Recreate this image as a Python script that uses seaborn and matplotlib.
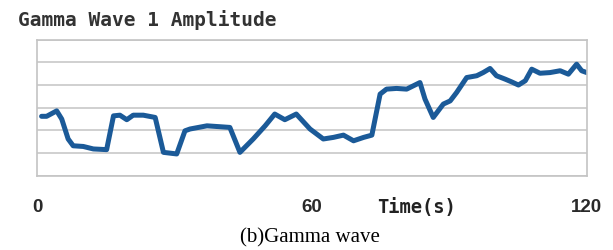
import numpy as np
import pandas as pd
import matplotlib
matplotlib.use("Agg")
import matplotlib.pyplot as plt
import seaborn as sns

# -------------------------
# data
# -------------------------
time_s = [1.0, 2.1, 4.3, 5.4, 6.8, 7.9, 10.1, 12.3, 15.2, 16.7, 18.1, 19.6, 21.0,
          23.2, 25.8, 27.6, 30.5, 32.3, 33.4, 37.1, 40.0, 42.1, 44.3, 47.2, 49.8,
          51.9, 54.1, 56.6, 59.6, 62.5, 64.7, 66.9, 69.1, 71.3, 73.1, 74.9, 76.3,
          78.5, 80.7, 83.6, 84.7, 86.5, 88.7, 90.2, 91.6, 93.8, 96.0, 97.4, 98.9,
          100.3, 102.2, 103.6, 105.1, 106.6, 108.0, 109.8, 112.0, 114.2, 116.0,
          117.8, 118.9, 120.0]
amplitude = [2.62, 2.62, 2.86, 2.50, 1.62, 1.32, 1.29, 1.18, 1.15, 2.64, 2.67, 2.47,
             2.67, 2.67, 2.57, 1.03, 0.96, 1.98, 2.06, 2.20, 2.16, 2.13, 1.03, 1.62,
             2.20, 2.72, 2.47, 2.72, 2.06, 1.62, 1.69, 1.79, 1.54, 1.69, 1.79, 3.60,
             3.82, 3.85, 3.82, 4.11, 3.38, 2.57, 3.16, 3.30, 3.67, 4.33, 4.41, 4.55,
             4.73, 4.41, 4.26, 4.14, 4.00, 4.19, 4.70, 4.52, 4.55, 4.63, 4.48, 4.92,
             4.63, 4.55]
x_ticks = [0, 60, 120]
title = "Gamma Wave 1 Amplitude"
x_label = "Time(s)"
caption = "(b)Gamma wave"

df = pd.DataFrame({"time": time_s, "amp": amplitude})

sns.set_style("white")
fig = plt.figure(figsize=(6.13, 2.51), dpi=100)
ax = fig.add_axes([37 / 613, 1 - 176.7 / 251, (586.7 - 37) / 613, (176.7 - 40.7) / 251])

sns.lineplot(data=df, x="time", y="amp", ax=ax, color="#1b5a98", linewidth=3.6)

ax.set_xlim(0, 120)
ax.set_ylim(0, 6)
ax.set_yticks(range(0, 7))
ax.set_yticklabels([])
ax.yaxis.grid(True, color="#c8c8c8", linewidth=1.2)
ax.set_axisbelow(True)
for s in ax.spines.values():
    s.set_color("#c4c4c4")
    s.set_linewidth(1.2)
ax.tick_params(axis="y", length=4, color="#d0d0d0", width=1)
ax.tick_params(axis="x", length=6, color="#c8c8c8", width=1, pad=10)
ax.set_xticks(x_ticks)
ax.set_xticklabels([str(t) for t in x_ticks], fontfamily="Liberation Sans",
                   fontweight="bold", fontsize=13.5, color="#2a2a2a")
ax.set_xlabel("")
ax.set_ylabel("")

fig.text(18 / 613, 1 - 19.5 / 251, title, fontfamily="DejaVu Sans Mono",
         fontweight="bold", fontsize=14, color="#333333", va="center", ha="left")
fig.text(416 / 613, 1 - 207 / 251, x_label, fontfamily="DejaVu Sans Mono",
         fontweight="bold", fontsize=13.5, color="#222222", va="center", ha="center")
fig.text(310 / 613, 1 - 238 / 251, caption, fontfamily="Liberation Serif",
         fontsize=15, color="black", va="center", ha="center")

fig.savefig("out.png", dpi=100)
plt.close()
